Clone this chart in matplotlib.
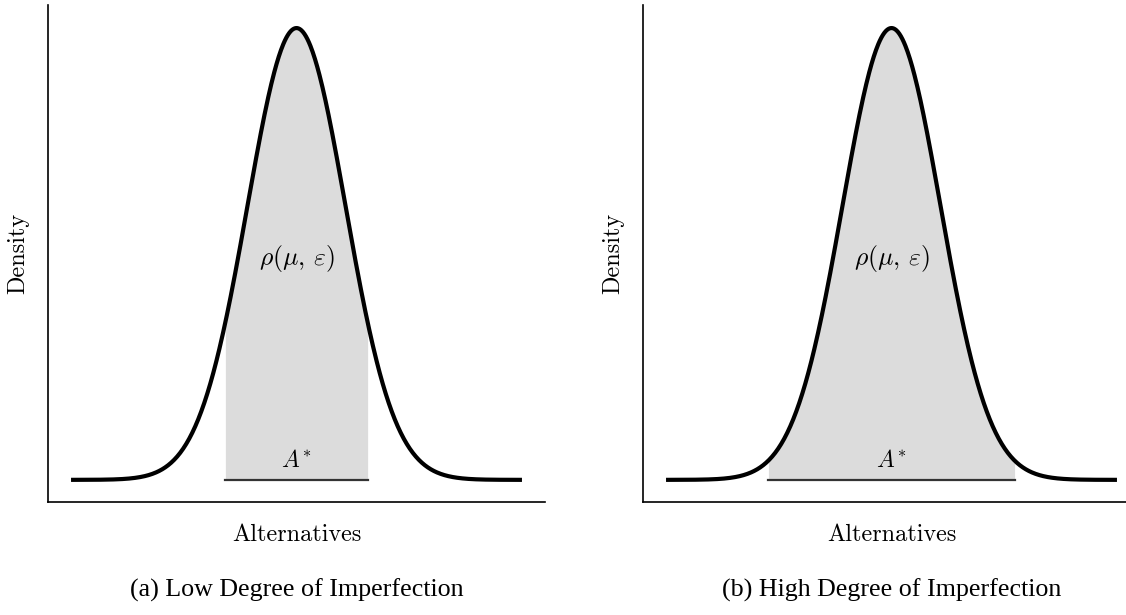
import numpy as np
import matplotlib.pyplot as plt

# density curve parameters (in units of sigma) and the A* interval half-widths
mu = 0.0
sigma = 1.0
x_span = 4.6
a_star_half = [1.46, 2.52]
captions = ["(a) Low Degree of Imperfection", "(b) High Degree of Imperfection"]

plt.rcParams["mathtext.fontset"] = "cm"

x = np.linspace(mu - x_span, mu + x_span, 600)
dens = np.exp(-0.5 * ((x - mu) / sigma) ** 2)

fig = plt.figure(figsize=(11.26, 6.15), dpi=100)
W, H = 1126, 615
axes_px = [(48, 545), (643, 1140)]
top_px, bottom_px = 5, 502

for (x0, x1), half, cap in zip(axes_px, a_star_half, captions):
    ax = fig.add_axes([x0 / W, (H - bottom_px) / H, (x1 - x0) / W, (bottom_px - top_px) / H])
    mask = np.abs(x - mu) <= half
    ax.fill_between(x[mask], 0, dens[mask], color="#dcdcdc", lw=0)
    ax.plot(x, dens, color="black", lw=3.0, solid_capstyle="butt")
    ax.plot([mu - half, mu + half], [0, 0], color="#333333", lw=1.6)
    ax.text(mu, 0.49, r"$\rho(\mu,\,\varepsilon)$", ha="center", va="center", fontsize=18.5)
    ax.text(mu, 0.045, r"$A^{\!*}$", ha="center", va="center", fontsize=17)
    ax.set_xlim(-5.07, 5.07)
    ax.set_ylim(-0.049, 1.051)
    ax.set_xticks([])
    ax.set_yticks([])
    for s in ["top", "right"]:
        ax.spines[s].set_visible(False)
    for s in ["left", "bottom"]:
        ax.spines[s].set_linewidth(1.2)
    ax.text(0.5, -0.067, "Alternatives", family="cmr10", fontsize=17.5,
            ha="center", va="center", transform=ax.transAxes)
    ax.text(-0.06, 0.5, "Density", family="cmr10", fontsize=17.5, rotation=90,
            ha="center", va="center", transform=ax.transAxes)
    cx = (x0 + 545 - 48 + x0) / 2 / W
    fig.text(cx, (H - 590) / H, cap, family="Liberation Serif", fontsize=18.7,
             ha="center", va="center")

fig.savefig("out.png", dpi=100)
